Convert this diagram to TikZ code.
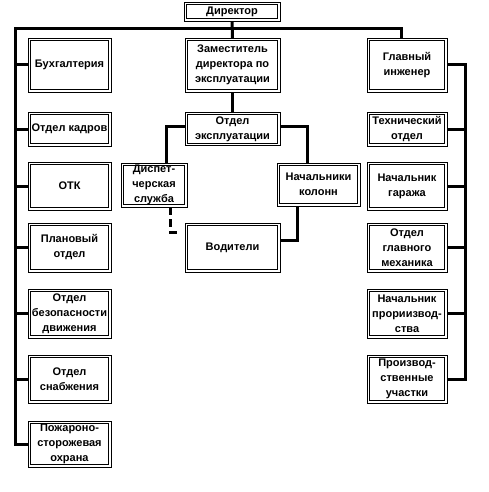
\documentclass[tikz,border=0pt]{standalone}
\usepackage{fontspec}
\setmainfont{Liberation Sans}
\usetikzlibrary{backgrounds}
\begin{document}
\begin{tikzpicture}[x=1pt,y=-1pt,
  box/.style={draw, line width=0.8pt, fill=white,
    align=center, inner sep=0pt, outer sep=0pt,
    font=\bfseries\fontsize{11}{15}\selectfont},
  inner/.style={draw, line width=0.8pt},
  conn/.style={line width=3pt}]
\useasboundingbox (0,0) rectangle (489,492);
% centre column
\node[box, minimum width=96pt, minimum height=19pt] (dir) at (232,11.5) {Директор};
\node[box, minimum width=95pt, minimum height=54pt] (zam) at (232.5,65) {Заместитель\\директора по\\эксплуатации};
\node[box, minimum width=95pt, minimum height=33pt] (oe) at (232.5,129) {Отдел\\эксплуатации};
\node[box, minimum width=66pt, minimum height=44pt] (disp) at (154,185) {Диспет-\\черская\\служба};
\node[box, minimum width=83pt, minimum height=43pt] (nk) at (318.5,184.5) {Начальники\\колонн};
\node[box, minimum width=95pt, minimum height=49pt] (vod) at (232.5,247.5) {Водители};
% left column
\node[box, minimum width=83pt, minimum height=54pt] (buh) at (69.5,65) {Бухгалтерия};
\node[box, minimum width=83pt, minimum height=34pt] (kadr) at (69.5,129) {Отдел кадров};
\node[box, minimum width=83pt, minimum height=48pt] (otk) at (69.5,186) {ОТК};
\node[box, minimum width=83pt, minimum height=49pt] (plan) at (69.5,247.5) {Плановый\\отдел};
\node[box, minimum width=83pt, minimum height=49pt] (bez) at (69.5,313.5) {Отдел\\безопасности\\движения};
\node[box, minimum width=83pt, minimum height=48pt] (snab) at (69.5,379) {Отдел\\снабжения};
\node[box, minimum width=83pt, minimum height=46pt] (pozh) at (69.5,444) {Пожароно-\\сторожевая\\охрана};
% right column
\node[box, minimum width=80pt, minimum height=54pt] (ing) at (407,65) {Главный\\инженер};
\node[box, minimum width=80pt, minimum height=34pt] (tech) at (407,129) {Технический\\отдел};
\node[box, minimum width=80pt, minimum height=48pt] (gar) at (407,186) {Начальник\\гаража};
\node[box, minimum width=80pt, minimum height=49pt] (meh) at (407,247.5) {Отдел\\главного\\механика};
\node[box, minimum width=80pt, minimum height=49pt] (npr) at (407,313.5) {Начальник\\прориизвод-\\ства};
\node[box, minimum width=80pt, minimum height=48pt] (prod) at (407,379) {Производ-\\ственные\\участки};
\foreach \n in {dir,zam,oe,disp,nk,vod,buh,kadr,otk,plan,bez,snab,pozh,ing,tech,gar,meh,npr,prod}
  \draw[inner] ([shift={(2.2pt,2.2pt)}]\n.south west) rectangle ([shift={(-2.2pt,-2.2pt)}]\n.north east);
\coordinate (ltop) at (15,29);
\coordinate (rb) at (465,0);
\coordinate (dd) at (180,232);
\begin{scope}[on background layer]
\draw[conn] (pozh.west) -| (ltop) -| ([xshift=-6pt]ing.north);
\foreach \n in {buh,kadr,otk,plan,bez,snab} \draw[conn] (\n.west) -- (\n.west -| ltop);
\draw[conn] (ing.east) -- (ing.east -| rb) |- (prod.east);
\foreach \n in {tech,gar,meh,npr} \draw[conn] (\n.east) -- (\n.east -| rb);
\draw[conn] (dir.south) -- (zam.north);
\draw[conn] (zam.south) -- (oe.north);
\draw[conn] ([yshift=3pt]oe.west) -| ([xshift=12pt]disp.north);
\draw[conn] ([yshift=3pt]oe.east) -| ([xshift=-11pt]nk.north);
\draw[conn] ([xshift=-21pt]nk.south) |- ([yshift=7.5pt]vod.east);
\draw[conn, dash pattern=on 8pt off 4pt] ([xshift=16pt]disp.south) |- (dd);
\end{scope}
\end{tikzpicture}
\end{document}
